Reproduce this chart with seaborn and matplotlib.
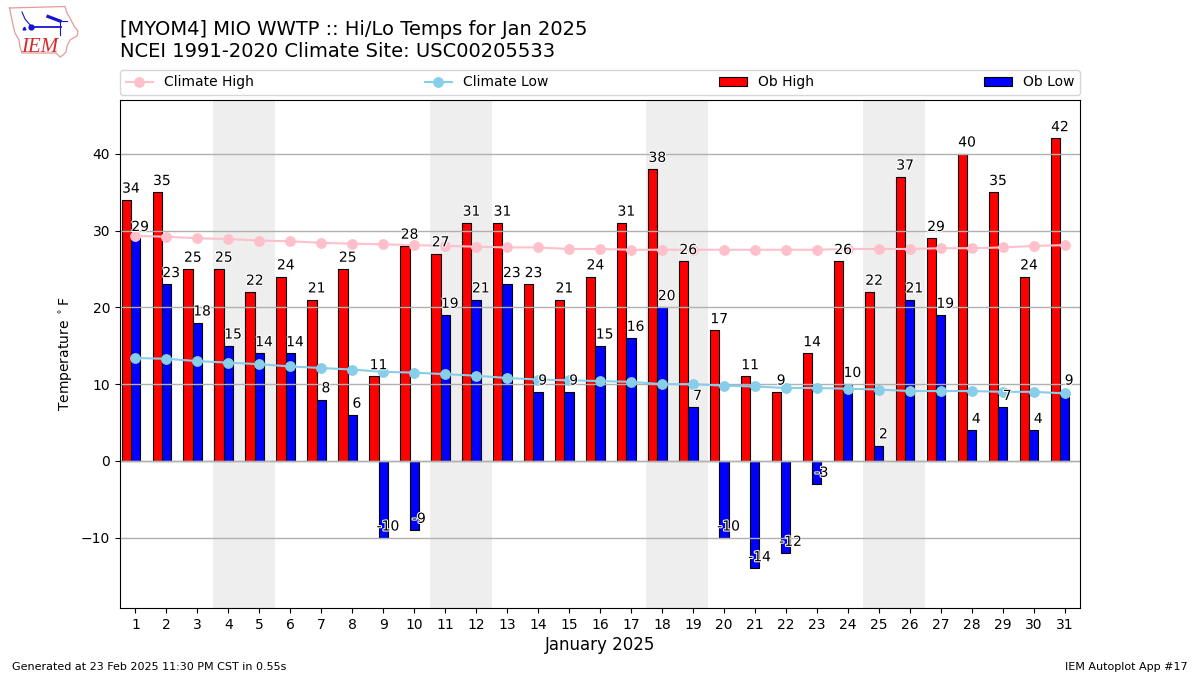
import matplotlib
matplotlib.use("Agg")
import matplotlib.pyplot as plt
import matplotlib.patheffects as pe
import pandas as pd
import seaborn as sns

days = list(range(1, 32))
ob_high = [34, 35, 25, 25, 22, 24, 21, 25, 11, 28, 27, 31, 31, 23, 21, 24,
           31, 38, 26, 17, 11, 9, 14, 26, 22, 37, 29, 40, 35, 24, 42]
ob_low = [29, 23, 18, 15, 14, 14, 8, 6, -10, -9, 19, 21, 23, 9, 9, 15,
          16, 20, 7, -10, -14, -12, -3, 10, 2, 21, 19, 4, 7, 4, 9]
climate_high = [29.3, 29.2, 29.0, 28.9, 28.7, 28.6, 28.4, 28.3, 28.2, 28.1, 28.0,
                27.9, 27.8, 27.8, 27.6, 27.6, 27.5, 27.5, 27.5, 27.5, 27.5, 27.5,
                27.5, 27.6, 27.6, 27.6, 27.7, 27.7, 27.8, 28.0, 28.1]
climate_low = [13.4, 13.3, 13.0, 12.8, 12.6, 12.3, 12.1, 11.9, 11.6, 11.5, 11.3,
               11.1, 10.8, 10.6, 10.5, 10.4, 10.3, 10.0, 10.0, 9.8, 9.7, 9.5,
               9.5, 9.4, 9.3, 9.1, 9.1, 9.1, 9.0, 9.0, 8.8]
weekends = [(3.5, 5.5), (10.5, 12.5), (17.5, 19.5), (24.5, 26.5)]

# bars sit left of the tick: high ends at day-0.15, low is centred on day
df = pd.DataFrame({"day": [d - 0.15 for d in days] * 2,
                   "temp": ob_high + ob_low,
                   "series": ["Ob High"] * 31 + ["Ob Low"] * 31})

fig = plt.figure(figsize=(12, 6.75), dpi=100)
ax = fig.add_axes([120 / 1200, 1 - 608 / 675, 960 / 1200, 508 / 675])

for start, end in weekends:
    ax.axvspan(start, end, color="#eeeeee", lw=0, zorder=0)

sns.barplot(data=df, x="day", y="temp", hue="series", native_scale=True,
            palette={"Ob High": "red", "Ob Low": "blue"}, width=0.6, gap=0,
            saturation=1, edgecolor="black", linewidth=0.8, errorbar=None,
            zorder=1, ax=ax)
sns.lineplot(x=days, y=climate_high, color="pink", marker="o", markersize=7,
             markeredgecolor="pink", lw=1.5, label="Climate High", ax=ax)
sns.lineplot(x=days, y=climate_low, color="skyblue", marker="o", markersize=7,
             markeredgecolor="skyblue", lw=1.5, label="Climate Low", ax=ax)

white = [pe.withStroke(linewidth=1.5, foreground="white")]
for d, hi, lo in zip(days, ob_high, ob_low):
    ax.text(d - 0.15, hi + 0.55, str(hi), ha="center", va="bottom", fontsize=10,
            path_effects=white, zorder=5)
    ax.text(d + 0.15, lo + 0.55, str(lo), ha="center", va="bottom", fontsize=10,
            path_effects=white, zorder=5)

ax.set_xlim(0.5, 31.5)
ax.set_ylim(-19.15, 47)
ax.set_xticks(days, [str(d) for d in days])
ax.set_yticks([-10, 0, 10, 20, 30, 40])
ax.grid(axis="y", color="#b0b0b0", lw=1)
ax.grid(axis="x", visible=False)
ax.axhline(0, color="#b0b0b0", lw=1, zorder=1.5)
ax.set_xlabel("January 2025", fontsize=12)
ax.xaxis.labelpad = 3
ax.set_ylabel(r"Temperature $^\circ$F")

handles, labels = ax.get_legend_handles_labels()
order = [labels.index(n) for n in ["Climate High", "Climate Low", "Ob High", "Ob Low"]]
ax.legend([handles[i] for i in order], [labels[i] for i in order], ncol=4,
          mode="expand", loc="lower left", borderaxespad=0,
          bbox_to_anchor=(0, 1 + 5 / 508, 1, 25 / 508), fontsize=10)

fig.text(120 / 1200, 1 - 35 / 675, "[MYOM4] MIO WWTP :: Hi/Lo Temps for Jan 2025",
         fontsize=14, va="baseline")
fig.text(120 / 1200, 1 - 57 / 675, "NCEI 1991-2020 Climate Site: USC00205533",
         fontsize=14, va="baseline")
fig.text(12 / 1200, 1 - 670 / 675, "Generated at 23 Feb 2025 11:30 PM CST in 0.55s",
         fontsize=8, va="baseline")
fig.text(1188 / 1200, 1 - 670 / 675, "IEM Autoplot App #17", fontsize=8,
         ha="right", va="baseline")

# logo, drawn in pixel coordinates
logo = fig.add_axes([0, 1 - 60 / 675, 80 / 1200, 60 / 675])
logo.set_xlim(0, 80)
logo.set_ylim(60, 0)
logo.axis("off")
outline_x = [9.5, 65, 67, 70, 74, 78, 77, 70, 67, 66, 63, 60, 56, 22, 20, 19, 15, 13, 9.5]
outline_y = [8, 6.5, 13, 18, 26, 31, 36, 40, 46, 52, 55, 57, 53, 53, 47, 40, 33, 25, 8]
logo.plot(outline_x, outline_y, color="#e59a9a", lw=0.9)
logo.plot([31, 61], [26.5, 26.5], color="#1414d2", lw=1.3)
logo.plot([48, 60], [16.5, 21], color="#1414d2", lw=2.3)
logo.plot([60, 67], [21, 21], color="#1414d2", lw=0.8)
logo.plot([22, 25, 31], [12, 19, 26], color="#1414d2", lw=0.8)
logo.plot([60, 60], [21, 35], color="#1414d2", lw=0.8)
logo.plot([31], [27], "o", color="#1414d2", ms=3.5)
logo.plot([24], [28], "^", color="#1414d2", ms=2)
logo.text(21, 52, "IEM", color="#d52a2a", fontsize=15, style="italic",
          family="Liberation Serif")

fig.savefig("out.png", dpi=100)
